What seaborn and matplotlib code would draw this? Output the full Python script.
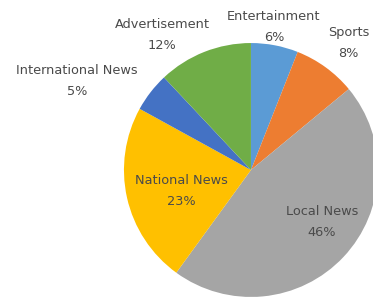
import matplotlib
matplotlib.use("Agg")
import matplotlib.pyplot as plt
import seaborn as sns

categories = ["Entertainment", "Sports", "Local News", "National News",
              "International News", "Advertisement"]
values = [6, 8, 46, 23, 5, 12]
colors = ["#5B9BD5", "#ED7D31", "#A5A5A5", "#FFC000", "#4472C4", "#70AD47"]

# label placement (pie-relative units, radius = 1)
label_pos = {
    "Entertainment": (0.18, 1.13),
    "Sports": (0.77, 1.0),
    "Local News": (0.56, -0.41),
    "National News": (-0.55, -0.165),
    "International News": (-1.37, 0.70),
    "Advertisement": (-0.70, 1.06),
}

sns.set_theme(style="white")
plt.rcParams["font.family"] = ["DejaVu Sans"]

fig = plt.figure(figsize=(3.73, 3.00), dpi=100)
ax = fig.add_axes([0, 0, 1, 1])
wedges, _ = ax.pie(values, colors=colors, startangle=90, counterclock=False,
                   radius=1.0, wedgeprops=dict(linewidth=0))

for cat, val in zip(categories, values):
    x, y = label_pos[cat]
    ax.text(x, y, f"{cat}\n{val}%", ha="center", va="center", fontsize=9.3,
            color="#4a4a4a", linespacing=1.8)

ax.set_xlim(-1.976, 0.961)
ax.set_ylim(-1.024, 1.339)
ax.set_aspect("auto")
ax.axis("off")
fig.savefig("out.png", dpi=100)
